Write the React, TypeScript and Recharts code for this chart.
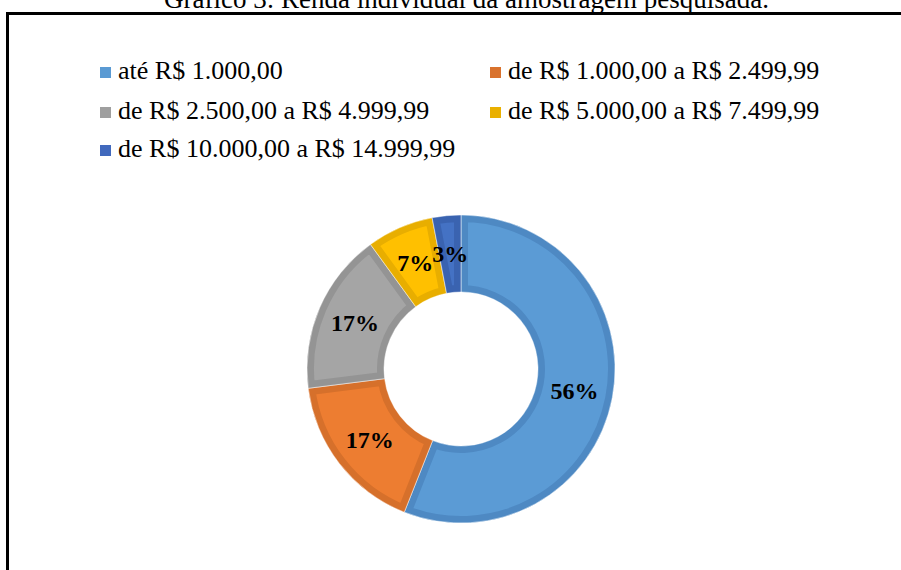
import React from 'react';
import { PieChart, Pie, Legend, Sector, Tooltip } from 'recharts';

const title = 'Gráfico 3: Renda individual da amostragem pesquisada.';
const categories = [
  'até R$ 1.000,00',
  'de R$ 1.000,00 a R$ 2.499,99',
  'de R$ 2.500,00 a R$ 4.999,99',
  'de R$ 5.000,00 a R$ 7.499,99',
  'de R$ 10.000,00 a R$ 14.999,99',
];
const shares = [56, 17, 17, 7, 3];
const fillColors = ['#5B9BD5', '#ED7D31', '#A5A5A5', '#FFC000', '#4472C4'];
const borderColors = ['#4E89C3', '#D6702B', '#949494', '#E8AE00', '#3A63B0'];
const legendColors = ['#5A9AD3', '#D9722D', '#9F9F9F', '#EAB000', '#4169BD'];

const data = categories.map((name, i) => ({ name, value: shares[i] }));

const SERIF = "'Liberation Serif', 'Times New Roman', serif";

const SliceShape = (props: any) => {
  const { cx, cy, innerRadius, outerRadius, startAngle, endAngle } = props;
  const nm = props.payload && props.payload.name !== undefined ? props.payload.name : props.name;
  const i = Math.max(0, categories.indexOf(nm));
  const id = `slice-clip-${i}`;
  const geo = { cx, cy, innerRadius, outerRadius, startAngle, endAngle };
  return (
    <g>
      <defs>
        <clipPath id={id}>
          <Sector {...geo} />
        </clipPath>
      </defs>
      <g clipPath={`url(#${id})`}>
        <Sector {...geo} fill={fillColors[i]} stroke={borderColors[i]} strokeWidth={14} />
      </g>
      <Sector {...geo} fill="none" stroke="#ffffff" strokeOpacity={0.5} strokeWidth={1} />
    </g>
  );
};

const renderLabel = (p: any) => {
  const RAD = Math.PI / 180;
  const r = (p.innerRadius + p.outerRadius) / 2;
  const x = p.cx + r * Math.cos(-p.midAngle * RAD);
  const y = p.cy + r * Math.sin(-p.midAngle * RAD);
  return (
    <text
      x={x}
      y={y}
      textAnchor="middle"
      dominantBaseline="central"
      fontFamily={SERIF}
      fontWeight="bold"
      fontSize={24}
      fill="#000"
    >
      {`${p.value}%`}
    </text>
  );
};

const legendCols = [100, 490];
const legendRows = [72, 112, 150];

const renderLegend = () => (
  <div style={{ position: 'relative', width: 901, height: 170 }}>
    {categories.map((name, i) => {
      const x = legendCols[i % 2];
      const y = legendRows[Math.floor(i / 2)];
      return (
        <div key={name}>
          <div
            style={{
              position: 'absolute',
              left: x,
              top: y - 5,
              width: 11,
              height: 11,
              background: legendColors[i],
            }}
          />
          <div
            style={{
              position: 'absolute',
              left: x + 18,
              top: y - 16,
              height: 30,
              lineHeight: '30px',
              fontFamily: SERIF,
              fontSize: 26,
              color: '#000',
              whiteSpace: 'nowrap',
            }}
          >
            {name}
          </div>
        </div>
      );
    })}
  </div>
);

export default function App() {
  return (
    <div
      style={{
        position: 'absolute',
        left: 0,
        top: 0,
        width: 901,
        height: 570,
        overflow: 'hidden',
        background: '#fff',
      }}
    >
      <div
        style={{
          position: 'absolute',
          left: 16,
          top: -17,
          width: 901,
          textAlign: 'center',
          fontFamily: SERIF,
          fontSize: 27,
          lineHeight: '32px',
          color: '#000',
          whiteSpace: 'nowrap',
        }}
      >
        {title}
      </div>
      <div
        style={{
          position: 'absolute',
          left: 6,
          top: 12,
          width: 1000,
          height: 1000,
          borderTop: '3px solid #000',
          borderLeft: '3px solid #000',
        }}
      />
      <div style={{ position: 'absolute', left: 0, top: 0 }}>
        <PieChart width={901} height={570} margin={{ top: 0, right: 0, bottom: 0, left: 0 }}>
          <Tooltip defaultIndex={0} content={() => null} cursor={false} />
          <Legend
            content={renderLegend}
            wrapperStyle={{ position: 'absolute', left: 0, top: 0, width: 901, height: 170 }}
          />
          <Pie
            data={data}
            dataKey="value"
            nameKey="name"
            cx={461}
            cy={369}
            innerRadius={77}
            outerRadius={154}
            startAngle={90}
            endAngle={-270}
            stroke="none"
            labelLine={false}
            label={renderLabel}
            isAnimationActive={false}
            shape={SliceShape}
            activeShape={SliceShape}
            inactiveShape={SliceShape}
          />
        </PieChart>
      </div>
    </div>
  );
}
